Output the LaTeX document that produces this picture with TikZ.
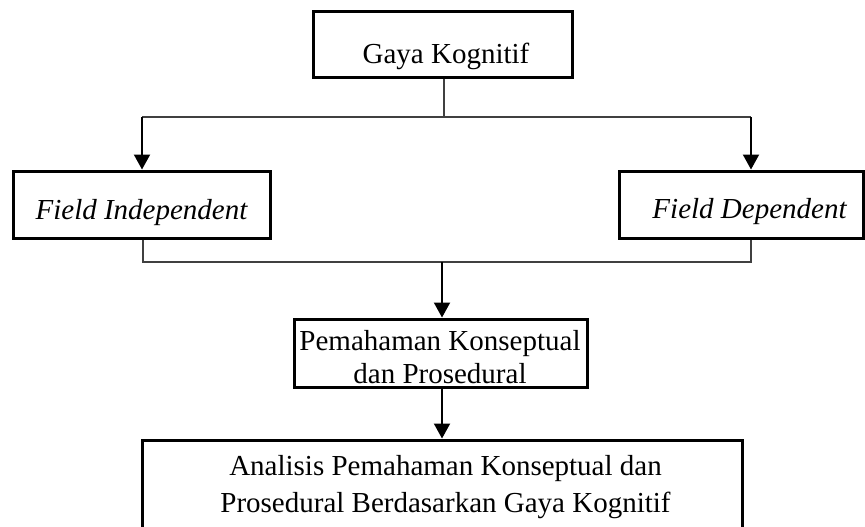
\documentclass[tikz,border=0pt]{standalone}
\usepackage{fontspec}
\setmainfont{Liberation Serif}
\usepackage{tikz}
\usetikzlibrary{arrows.meta}
\usetikzlibrary{calc}

\begin{document}
\begin{tikzpicture}[x=0.5pt, y=-0.5pt,
        box_style/.style={draw=black, line width=1.5pt, inner sep=0pt, minimum height=33.5pt},
        text_style/.style={inner sep=0pt, anchor=base, align=center, font=\fontsize{14.5}{16.5}\selectfont},
        line_style/.style={draw=black!75, line width=0.75pt},
        arrow_style/.style={draw=black, line width=1pt, -{Triangle[length=7.5pt,width=8pt]}}]

        \useasboundingbox (0,0) rectangle (865,526);

        \node [box_style, minimum width=129.5pt, minimum height=33pt] (gaya) at (442.5,44) {};

        \node [box_style, minimum width=128.5pt] (fi) at (141.5,204.5) {};

        \node [box_style, minimum width=122pt] (fd) at (741,204.5) {};

        \node [box_style, minimum width=146.5pt, minimum height=34pt] (pem) at (440.5,353) {};

        \node [box_style, minimum width=300pt, minimum height=46pt] (ana) at (442,486) {};

        \node [text_style] (gaya_text) at (446,63) {Gaya Kognitif};

        \node [text_style, font=\fontsize{14.5}{16.5}\selectfont\itshape] (fi_text) at (141.5,219) {Field Independent};

        \node [text_style, font=\fontsize{14.5}{16.5}\selectfont\itshape] (fd_text) at (749.5,218) {Field Dependent};

        \node [text_style] (pem_text) at (440,383) {Pemahaman Konseptual\\dan Prosedural};

        \node [text_style, font=\fontsize{14.5}{18.5}\selectfont] (ana_text) at (445.5,512) {Analisis Pemahaman Konseptual dan\\Prosedural Berdasarkan Gaya Kognitif};

        \coordinate (split) at (444,117);
        \coordinate (split_l) at (142,117);
        \coordinate (split_r) at (751,117);
        \coordinate (merge_l) at (143,262);
        \coordinate (merge_r) at (751,262);
        \coordinate (merge) at (442,262);

        \draw [line_style] (gaya.south -| split) -- (split);

        \draw [line_style] (split_l) -- (split_r);

        \draw [arrow_style] (split_l) -- (split_l |- fi.north);

        \draw [arrow_style] (split_r) -- (split_r |- fd.north);

        \draw [line_style] (merge_l |- fi.south) -- (merge_l) -- (merge_r) -- (merge_r |- fd.south);

        \draw [arrow_style] (merge) -- (merge |- pem.north);

        \draw [arrow_style] (pem.south -| merge) -- (merge |- ana.north);

        \end{tikzpicture}
\end{document}
